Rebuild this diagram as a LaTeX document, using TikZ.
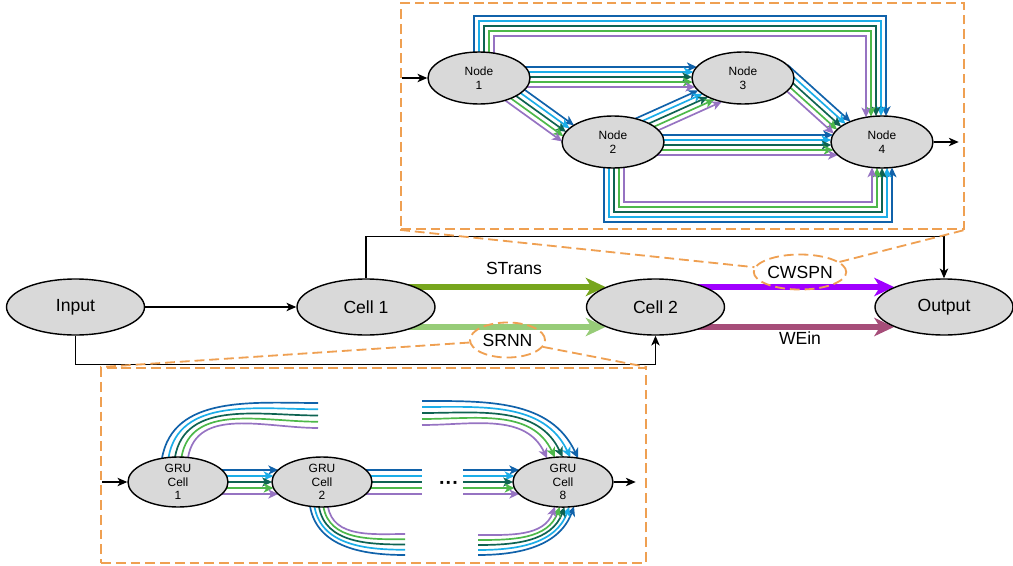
\documentclass[tikz,border=0pt]{standalone}
\usepackage{fontspec}
\setmainfont{Liberation Sans}
\usepackage{tikz}
\usetikzlibrary{arrows.meta,positioning,calc,shapes.geometric,intersections,backgrounds}
\definecolor{cellgray}{HTML}{D9D9D9}
\definecolor{dashorange}{HTML}{EFA052}
\definecolor{bdark}{HTML}{1062AA}
\definecolor{blight}{HTML}{1BADE8}
\definecolor{gdark}{HTML}{0E6352}
\definecolor{glight}{HTML}{4DB84A}
\definecolor{lilac}{HTML}{9673C2}
\definecolor{stransgreen}{HTML}{77A61E}
\definecolor{srnngreen}{HTML}{97CC78}
\definecolor{cwspnviolet}{HTML}{A000FF}
\definecolor{weinplum}{HTML}{A64D79}

\begin{document}
\begin{tikzpicture}[
  x=0.25mm, y=0.25mm,
  font=\fontsize{12.5}{14}\selectfont,
  cell/.style={ellipse, draw, line width=1pt, fill=cellgray, inner sep=0pt, minimum width=34.5mm, minimum height=14mm},
  nasnode/.style={cell, align=center, minimum width=25.5mm, minimum height=13mm, font=\fontsize{8.5}{9.6}\selectfont},
  grunode/.style={nasnode, minimum width=25mm, minimum height=12.5mm},
  dashline/.style={draw=dashorange, line width=1.3pt, dash pattern=on 7pt off 3.5pt},
  dashbox/.style={dashline, inner sep=0pt},
  dashtag/.style={ellipse, dashline, inner sep=0pt, minimum height=8.75mm},
  arr/.style={-{Stealth[length=7pt,width=6pt,inset=2pt]}, line width=0.9pt},
  fat/.style={draw=#1, line width=3.6pt, -{Stealth[length=14pt,width=13pt,inset=4pt]}},
  wire/.style={draw=#1, line width=1.2pt, -{Stealth[length=7pt,width=6.5pt,inset=2pt]}},
  trail/.style={draw=#1, line width=1.2pt},
]
\useasboundingbox (0,0) rectangle (1013,565);

% main chain
\node[cell] (input) at (75.5,258) {Input};
\node[cell] (cell1) at (366,258) {Cell 1};
\node[cell] (cell2) at (655.5,258) {Cell 2};
\node[cell] (output) at (944,258) {Output};
\node (stransLbl) at (514,297) {STrans};
\node (weinLbl) at (800,227) {WEin};
\node[dashtag, minimum width=20.25mm] (cwspnTag) at (800,293) {CWSPN};
\node[dashtag, minimum width=18.75mm] (srnnTag) at (507.5,225) {SRNN};

\draw[arr] (input) -- (cell1);
\draw[arr] (cell1.north) |- ($(output.north)+(0,42)$) -- (output.north);
\draw[arr] (input.south) -- ++(0,-29) -| (cell2.south);

% cell search space (top) and recurrent unrolling (bottom)
\node[dashbox, minimum width=140.75mm, minimum height=56.5mm] (nasbox) at (682.5,449) {};
\node[dashbox, minimum width=136.25mm, minimum height=48.75mm] (rnnbox) at (373.5,99.5) {};
\draw[dashline] (nasbox.south west) -- (cwspnTag);
\draw[dashline] (cwspnTag) -- (nasbox.south east);
\draw[dashline] (srnnTag) -- (rnnbox.north west);
\draw[dashline] (srnnTag) -- (rnnbox.north east);

\node[nasnode] (n1) at (479,487) {Node\\1};
\node[nasnode] (n2) at (613,423) {Node\\2};
\node[nasnode] (n3) at (743,487) {Node\\3};
\node[nasnode] (n4) at (882,423) {Node\\4};
\draw[arr] ($(n1.west)+(-25,0)$) -- (n1.west);
\draw[arr] (n4.east) -- ++(25,0);

\node[grunode] (g1) at (178,83) {GRU\\Cell\\1};
\node[grunode] (g2) at (322,83) {GRU\\Cell\\2};
\node[grunode] (g8) at (563,83) {GRU\\Cell\\8};
\node[font=\bfseries\fontsize{14}{16}\selectfont] (dots) at (449,80) {···};
\draw[arr] ($(g1.west)+(-25,0)$) -- (g1.west);
\draw[arr] (g8.east) -- ++(22,0);

% borders used to stop the slanted wires
\path[name path=rim2] (n2.center) ellipse [x radius=51, y radius=26];
\path[name path=rim3] (n3.center) ellipse [x radius=51, y radius=26];
\path[name path=rim4] (n4.center) ellipse [x radius=51, y radius=26];

\begin{scope}[on background layer]
\draw[fat=stransgreen] ($(cell1)+(0,20)$) -- ($(cell2)+(-50,20)$);
\draw[fat=srnngreen] ($(cell1)+(0,-20)$) -- ($(cell2)+(-50,-20)$);
\draw[fat=cwspnviolet] ($(cell2)+(0,20)$) -- ($(output)+(-50,20)$);
\draw[fat=weinplum] ($(cell2)+(0,-20)$) -- ($(output)+(-50,-20)$);

\foreach \col [count=\i from 0] in {bdark,blight,gdark,glight,lilac} {
  \pgfmathsetmacro\m{4-\i}
  % node 1 -> node 3 and node 2 -> node 4
  \pgfmathsetmacro\dy{11-5*\i}
  \pgfmathsetmacro\dx{51*sqrt(1-(\dy/26)^2)}
  \draw[wire=\col] ($(n1)+(0,\dy)$) -- ($(n3)+(-\dx,\dy)$);
  \pgfmathsetmacro\dy{7-5*\i}
  \pgfmathsetmacro\dx{51*sqrt(1-(\dy/26)^2)}
  \draw[wire=\col] ($(n2)+(0,\dy)$) -- ($(n4)+(-\dx,\dy)$);
  % node 1 -> node 2
  \path[name path=ray] ($(n1)+(24.2+2.93*\m,-21+4.06*\m)$) coordinate (s) -- ($(n2)+(-28.7+2.93*\m,-15.5+4.06*\m)$);
  \draw[wire=\col, name intersections={of=ray and rim2, by=hit}] (s) -- (hit);
  % node 2 -> node 3
  \path[name path=ray] ($(n2)+(7.8+2.05*\i,16.8-4.56*\i)$) coordinate (s) -- ($(n3)+(-21.9+2.05*\i,-2.1-4.56*\i)$);
  \draw[wire=\col, name intersections={of=ray and rim3, by=hit}] (s) -- (hit);
  % node 3 -> node 4
  \path[name path=ray] ($(n3)+(22.1+5.66*\m,6.4+1.63*\m)$) coordinate (s) -- ($(n4)+(-35.2+5.66*\m,-3.2+1.63*\m)$);
  \draw[wire=\col, name intersections={of=ray and rim4, by=hit}] (s) -- (hit);
  % skip links round the top and the bottom
  \pgfmathsetmacro\xa{-5+5*\i}
  \pgfmathsetmacro\xb{4-5*\i}
  \pgfmathsetmacro\ey{26*sqrt(1-(\xb/51)^2)}
  \draw[wire=\col] ($(n1)+(\xa,0)$) |- ($(n4)+(\xb,126-5*\i)$) -- ($(n4)+(\xb,\ey)$);
  \pgfmathsetmacro\xa{-9+5*\i}
  \pgfmathsetmacro\xb{10-5*\i}
  \pgfmathsetmacro\ey{26*sqrt(1-(\xb/51)^2)}
  \draw[wire=\col] ($(n2)+(\xa,0)$) |- ($(n4)+(\xb,-80+5*\i)$) -- ($(n4)+(\xb,-\ey)$);

  % GRU chain
  \pgfmathsetmacro\dy{12-6*\i}
  \pgfmathsetmacro\dx{50*sqrt(1-(\dy/25)^2)}
  \draw[wire=\col] ($(g1)+(0,\dy)$) -- ($(g2)+(-\dx,\dy)$);
  \draw[trail=\col] ($(g2)+(0,\dy)$) -- ++(100,0);
  \draw[wire=\col] ($(g8)+(-100,\dy)$) -- ($(g8)+(-\dx,\dy)$);
  \pgfmathsetmacro\xa{-16+6.5*\i}
  \pgfmathsetmacro\ya{25*sqrt(1-(\xa/50)^2)}
  \draw[trail=\col] ($(g1)+(\xa,\ya)$) to[out=80,in=180] ($(g2)+(-4,79-6.25*\i)$);
  \pgfmathsetmacro\xb{15-7.75*\i}
  \pgfmathsetmacro\yb{25*sqrt(1-(\xb/50)^2)}
  \draw[wire=\col] ($(g8)+(-141,81-6*\i)$) to[out=0,in=115] ($(g8)+(\xb,\yb)$);
  \pgfmathsetmacro\xa{-12+4.5*\i}
  \pgfmathsetmacro\ya{25*sqrt(1-(\xa/50)^2)}
  \draw[trail=\col] ($(g2)+(\xa,-\ya)$) to[out=-80,in=180] ($(g2)+(83,-73+5.25*\i)$);
  \pgfmathsetmacro\xb{11-4.75*\i}
  \pgfmathsetmacro\yb{25*sqrt(1-(\xb/50)^2)}
  \draw[wire=\col] ($(g8)+(-85,-73+5*\i)$) to[out=0,in=-110] ($(g8)+(\xb,-\yb)$);
}
\end{scope}
\end{tikzpicture}
\end{document}
